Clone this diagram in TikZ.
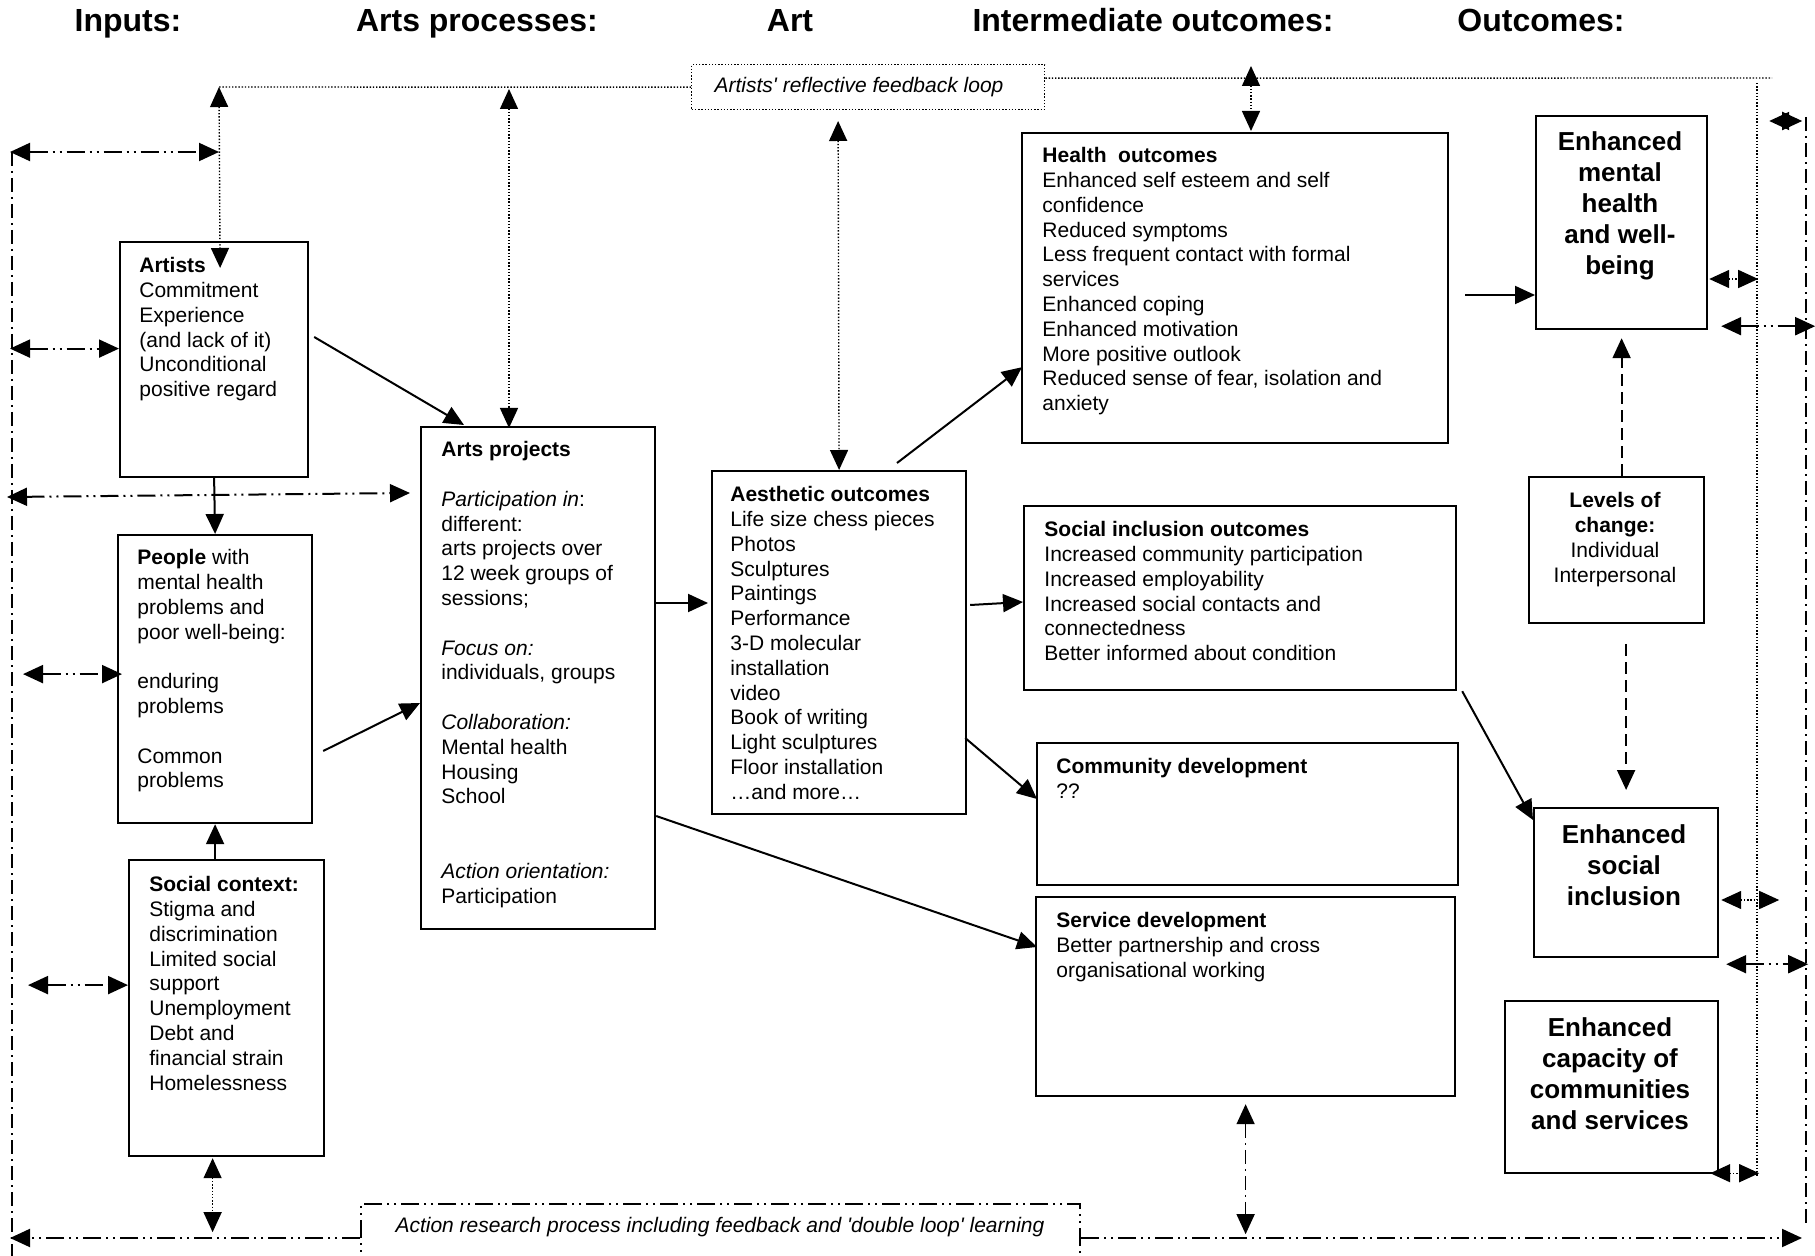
\documentclass[tikz,border=0pt]{standalone}
\usepackage{fontspec}
\setmainfont{Liberation Sans}[Ligatures=TeXOff]
\usepackage{tikz}
\usetikzlibrary{arrows.meta,calc}

\begin{document}
\begin{tikzpicture}[x=0.5pt,y=-0.5pt,
  >={Triangle[length=10pt,width=9pt]},
  box/.style={draw,line width=1.1pt,anchor=north west,inner sep=0pt},
  txt/.style={anchor=north west,align=left,inner sep=0pt,font=\fontsize{10.5}{12.4}\selectfont},
  big/.style={anchor=north,align=center,inner sep=0pt,font=\fontsize{13}{15.5}\selectfont\bfseries},
  head/.style={anchor=base,inner sep=0pt,font=\fontsize{16}{19}\selectfont\bfseries},
  dotline/.style={line width=0.7pt,dash pattern=on 0.7pt off 0.9pt},
  ddline/.style={line width=1pt,dash pattern=on 9pt off 2.5pt on 1pt off 2.5pt on 1pt off 2.5pt},
  dotdashline/.style={line width=0.8pt,dash pattern=on 7pt off 2.5pt on 1pt off 2.5pt},
  dashline/.style={line width=1pt,dash pattern=on 6pt off 3pt},
  link/.style={line width=1pt,->}]
\useasboundingbox (0,0) rectangle (1815,1256);

% column headings
\node[head] (h1) at (128,32) {Inputs:};
\node[head] (h2) at (477,32) {Arts processes:};
\node[head] (h3) at (790,32) {Art};
\node[head] (h4) at (1153,32) {Intermediate outcomes:};
\node[head] (h5) at (1541,32) {Outcomes:};

% boxes
\node[box,minimum width=94pt,minimum height=117.5pt] (artists) at (119,241) {};
\node[box,minimum width=97pt,minimum height=144pt] (people) at (117,534) {};
\node[box,minimum width=97.5pt,minimum height=148pt] (social) at (128,859) {};
\node[box,minimum width=117pt,minimum height=251pt] (arts) at (420,426) {};
\node[box,minimum width=127pt,minimum height=171.5pt] (aesth) at (711,470) {};
\node[box,minimum width=213pt,minimum height=155pt] (health) at (1021,132) {};
\node[box,minimum width=216pt,minimum height=92pt] (socinc) at (1023,505) {};
\node[box,minimum width=210.5pt,minimum height=71pt] (commdev) at (1036,742) {};
\node[box,minimum width=209.5pt,minimum height=99.5pt] (servdev) at (1035,896) {};
\node[box,minimum width=85.5pt,minimum height=106.5pt] (mental) at (1535,115) {};
\node[box,minimum width=87.5pt,minimum height=73pt] (levels) at (1528,476) {};
\node[box,minimum width=92pt,minimum height=74.5pt] (inclusion) at (1533,807) {};
\node[box,minimum width=106.5pt,minimum height=86pt] (capacity) at (1504,1000) {};
\node[box,dotline,minimum width=176.5pt,minimum height=22.5pt] (feedback) at (691,64) {};
\node[font=\fontsize{10.5}{12.4}\selectfont\itshape,inner sep=0pt] (feedbacktxt) at (859,87) {Artists' reflective feedback loop};
\node[box,ddline,minimum width=359.5pt,minimum height=50pt] (action) at (360,1203) {};
\node[font=\fontsize{10.5}{12.4}\selectfont\itshape,inner sep=0pt] (actiontxt) at (720,1227) {Action research process including feedback and 'double loop' learning};

% box texts
\node[txt] (artiststxt) at (139,257) {\textbf{Artists}\\Commitment\\Experience\\(and lack of it)\\Unconditional\\positive regard};
\node[txt] (peopletxt) at (137,549) {\textbf{People} with\\mental health\\problems and\\poor well-being:\\[12.4pt]enduring\\problems\\[12.4pt]Common\\problems};
\node[txt] (socialtxt) at (149,876) {\textbf{Social context:}\\Stigma and\\discrimination\\Limited social\\support\\Unemployment\\Debt and\\financial strain\\Homelessness};
\node[txt] (artstxt) at (441,441) {\textbf{Arts projects}\\[12.4pt]\textit{Participation in}:\\different:\\arts projects over\\12 week groups of\\sessions;\\[12.4pt]\textit{Focus on:}\\individuals, groups\\[12.4pt]\textit{Collaboration:}\\Mental health\\Housing\\School\\[24.8pt]\textit{Action orientation:}\\Participation};
\node[txt] (aesthtxt) at (730,486) {\textbf{Aesthetic outcomes}\\Life size chess pieces\\Photos\\Sculptures\\Paintings\\Performance\\3-D molecular\\installation\\video\\Book of writing\\Light sculptures\\Floor installation\\…and more…};
\node[txt] (healthtxt) at (1042,147) {\textbf{Health\ \ outcomes}\\Enhanced self esteem and self\\confidence\\Reduced symptoms\\Less frequent contact with formal\\services\\Enhanced coping\\Enhanced motivation\\More positive outlook\\Reduced sense of fear, isolation and\\anxiety};
\node[txt] (socinctxt) at (1044,521) {\textbf{Social inclusion outcomes}\\Increased community participation\\Increased employability\\Increased social contacts and\\connectedness\\Better informed about condition};
\node[txt] (commdevtxt) at (1056,758) {\textbf{Community development}\\??};
\node[txt] (servdevtxt) at (1056,912) {\textbf{Service development}\\Better partnership and cross\\organisational working};
\node[big] (mentaltxt) at (1620,131) {Enhanced\\mental\\health\\and well-\\being};
\node[txt,anchor=north,align=center] (levelstxt) at (1615,492) {\textbf{Levels of}\\\textbf{change:}\\Individual\\Interpersonal};
\node[big] (inclusiontxt) at (1624,824) {Enhanced\\social\\inclusion};
\node[big] (capacitytxt) at (1610,1017) {Enhanced\\capacity of\\communities\\and services};

% loop corners
\coordinate (topleft) at (219,87);
\coordinate (topright) at (1772,78);
\coordinate (lt) at (12,152);
\coordinate (lb) at (12,1260);
\coordinate (rdt) at (1757,83);
\coordinate (rdb) at (1757,1177);
\coordinate (rt) at (1806,117);
\coordinate (rb) at (1806,1228);

% artists' feedback loop
\draw[dotline] (feedback.west) -- (topleft);
\draw[dotline] ($(feedback.east)+(0,-9)$) -- (topright);
\draw[dotline] (rdt) -- (rdb);
\draw[dotline,<->] (topleft) -- ($(artists.north)+(6,27)$);
\draw[dotline,<->] ($(arts.north west)+(89,-337)$) -- ($(arts.north west)+(89,2)$);
\draw[dotline,<->] ($(aesth.north)+(-1,-349)$) -- (aesth.north);
\draw[dotline,<->] ($(health.north west)+(230,-66)$) -- ($(health.north west)+(230,-1)$);
\draw[dotline,<->] ($(mental.north east)+(1,164)$) -- ($(mental.north east)+(50,164)$);
\draw[dotline,<->] ($(inclusion.north east)+(2,93)$) -- ($(inclusion.north east)+(60,93)$);
\draw[dotline,<->] ($(capacity.south east)+(-9,-1)$) -- ($(capacity.south east)+(40,-1)$);
\draw[dotline,<->] ($(social.south)+(-14,1)$) -- ($(social.south)+(-14,75)$);

% action research loop
\draw[dotdashline] (lt) -- (lb);
\draw[dotdashline] (rt) -- (rb);
\draw[ddline,->] ($(action.north west)+(0,35)$) -- ($(action.north west)+(-350,35)$);
\draw[ddline,->] ($(action.north east)+(0,35)$) -- ($(action.north east)+(721,35)$);
\draw[ddline,<->] ($(lt)+(-2,0)$) -- (lt -| topleft);
\draw[ddline,<->] ($(artists.west -| lt)+(-2,-11)$) -- ($(artists.west)+(0,-11)$);
\draw[ddline,<->] ($(arts.north west)+(-413,71)$) -- ($(arts.north west)+(-10,67)$);
\draw[ddline,<->] ($(people.west)+(-94,-5)$) -- ($(people.west)+(5,-5)$);
\draw[ddline,<->] ($(social.west)+(-100,-23)$) -- ($(social.west)+(0,-23)$);
\draw[dotdashline,<->] ($(servdev.south)+(0,7)$) -- ($(servdev.south)+(0,137)$);
\draw[ddline,<->] ($(mental.south east)+(13,-4)$) -- ($(mental.south east)+(107,-4)$);
\draw[ddline,<->] ($(inclusion.south east)+(7,6)$) -- ($(inclusion.south east)+(89,6)$);
\draw[line width=1pt,<->] ($(mental.north east)+(61,6)$) -- ($(mental.north east)+(94,6)$);

% main flow
\draw[link] ($(artists.north east)+(5,96)$) -- ($(arts.north west)+(44,-1)$);
\draw[link] ($(people.north east)+(10,217)$) -- ($(arts.north west)+(0,277)$);
\draw[link] (artists.south) -- (people.north);
\draw[link] (social.north -| people.south) -- (people.south);
\draw[link] ($(arts.north east)+(0,177)$) -- ($(aesth.north west)+(-3,133)$);
\draw[link] ($(aesth.north west)+(186,-7)$) -- ($(health.south west)+(1,-77)$);
\draw[link] ($(aesth.north east)+(3,135)$) -- ($(socinc.north west)+(0,97)$);
\draw[link] ($(aesth.north east)+(-2,268)$) -- ($(commdev.north west)+(1,57)$);
\draw[link] ($(arts.north east)+(0,390)$) -- ($(servdev.north west)+(2,51)$);
\draw[link] ($(health.north east)+(16,163)$) -- ($(mental.north west)+(0,180)$);
\draw[link] ($(socinc.south east)+(5,0)$) -- ($(inclusion.north west)+(0,13)$);
\draw[dashline,->] (mental.south |- levels.north) -- ($(mental.south)+(0,8)$);
\draw[dashline,->] ($(inclusion.north)+(0,-163)$) -- ($(inclusion.north)+(0,-17)$);
\end{tikzpicture}
\end{document}
